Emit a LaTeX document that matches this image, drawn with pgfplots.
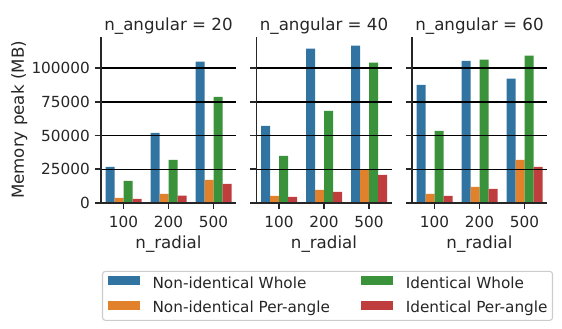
\documentclass[border=0pt]{standalone}
\usepackage{fontspec}
\setmainfont{DejaVu Sans}
\usepackage{pgfplots}
\pgfplotsset{compat=1.18}

\definecolor{cblue}{HTML}{3274A1}
\definecolor{corange}{HTML}{E1812C}
\definecolor{cgreen}{HTML}{3A923A}
\definecolor{cred}{HTML}{C03D3E}
\definecolor{spine}{HTML}{262626}

\pgfplotsset{
  facet/.style={
    scale only axis, width=97.2pt, height=119.5pt,
    xmin=-0.5, xmax=2.5, ymin=0, ymax=123000,
    axis x line*=bottom, axis y line*=left,
    axis line style={color=spine, line width=1.2pt},
    xtick={0,1,2}, xticklabels={100,200,500},
    ytick={0,25000,50000,75000,100000},
    scaled y ticks=false,
    /pgf/number format/fixed,
    /pgf/number format/set thousands separator={},
    /pgf/number format/assume math mode=true,
    tick align=outside, major tick length=4.5pt,
    tick style={color=spine, line width=1.1pt},
    ymajorgrids, major grid style={black, line width=1.05pt},
    axis on top,
    ticklabel style={font=\fontsize{11}{13}\selectfont, text=spine},
    xticklabel style={yshift=-1.5pt},
    xlabel={n\_radial},
    label style={font=\fontsize{12}{14}\selectfont, text=spine},
    xlabel style={at={(axis description cs:0.5,-0.272)}, anchor=base},
    title style={font=\fontsize{12}{14}\selectfont, text=spine,
      at={(axis description cs:0.5,1)}, anchor=base, yshift=-1.5pt},
  },
  bars/.style={ybar, bar width=0.2, bar shift=0pt, draw=none, fill=#1, forget plot},
}

\begin{document}
\begin{tikzpicture}
\path[use as bounding box] (0,0) rectangle (404.64pt,-236.16pt);

% n_angular = 20
\begin{axis}[facet, at={(72.72pt,-26.64pt)}, anchor=north west,
  title={n\_angular = 20},
  ylabel={Memory peak (MB)},
  ylabel style={at={(axis description cs:-0.572,0.5)}, anchor=base},
  legend columns=2,
  legend cell align=left,
  legend style={at={(axis description cs:0.0074,-0.409)}, anchor=north west,
    draw=black!20, line width=0.8pt, rounded corners=2pt,
    inner xsep=3.6pt, inner ysep=2.4pt, row sep=5.2pt,
    font=\fontsize{11}{13}\selectfont, text=spine,
    nodes={inner sep=0pt, text height=9.6pt, text depth=3pt},
    /tikz/every odd column/.append style={column sep=9.4pt},
    /tikz/every even column/.append style={column sep=22.3pt}},
  legend image code/.code={\fill[#1, draw=none, sharp corners] (0pt,-1.1pt) rectangle (23pt,5.5pt);},
]
\addplot[bars=cblue]   coordinates {(-0.3,26700) (0.7,52000) (1.7,104700)};
\addplot[bars=corange] coordinates {(-0.1,3700) (0.9,6700) (1.9,17100)};
\addplot[bars=cgreen]  coordinates {(0.1,16300) (1.1,31900) (2.1,78700)};
\addplot[bars=cred]    coordinates {(0.3,3000) (1.3,5400) (2.3,14100)};
\addlegendimage{fill=cblue}
\addlegendentry{Non-identical Whole}
\addlegendimage{fill=cgreen}
\addlegendentry{Identical Whole}
\addlegendimage{fill=corange}
\addlegendentry{Non-identical Per-angle}
\addlegendimage{fill=cred}
\addlegendentry{Identical Per-angle}
\end{axis}

% n_angular = 40
\begin{axis}[facet, at={(184.68pt,-26.64pt)}, anchor=north west,
  title={n\_angular = 40}, yticklabels={}]
\addplot[bars=cblue]   coordinates {(-0.3,57200) (0.7,114400) (1.7,116600)};
\addplot[bars=corange] coordinates {(-0.1,5200) (0.9,9700) (1.9,24500)};
\addplot[bars=cgreen]  coordinates {(0.1,34900) (1.1,68300) (2.1,104000)};
\addplot[bars=cred]    coordinates {(0.3,4500) (1.3,8200) (2.3,20800)};
\end{axis}

% n_angular = 60
\begin{axis}[facet, at={(296.64pt,-26.64pt)}, anchor=north west,
  title={n\_angular = 60}, yticklabels={}]
\addplot[bars=cblue]   coordinates {(-0.3,87600) (0.7,105400) (1.7,92100)};
\addplot[bars=corange] coordinates {(-0.1,6700) (0.9,11900) (1.9,31900)};
\addplot[bars=cgreen]  coordinates {(0.1,53500) (1.1,106200) (2.1,109200)};
\addplot[bars=cred]    coordinates {(0.3,5200) (1.3,10400) (2.3,26700)};
\end{axis}
\end{tikzpicture}
\end{document}
